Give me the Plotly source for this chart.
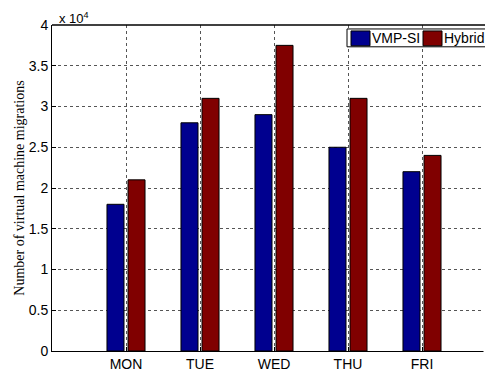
import plotly.graph_objects as go

# Daily migration counts for the two placement strategies
days = ["MON", "TUE", "WED", "THU", "FRI"]
day_pos = [1, 2, 3, 4, 5]
vmp_si = [18000, 28000, 29000, 25000, 22000]
hybrid = [21000, 31000, 37500, 31000, 24000]

y_ticks = [0, 5000, 10000, 15000, 20000, 25000, 30000, 35000, 40000]
y_tick_text = ["0", "0.5", "1", "1.5", "2", "2.5", "3", "3.5", "4"]

series_names = ["VMP-SI", "Hybrid"]
series_colors = ["rgb(0,0,143)", "rgb(128,0,0)"]

W, H = 485, 372
L, T, B = 52, 25, 18
unit_px = 74  # horizontal pixels per category step
plot_w = W - L
plot_h = H - T - B


def px_x(px):
    return (px - L) / plot_w


def px_y(py):
    return (H - B - py) / plot_h


fig = go.Figure()
fig.add_trace(go.Bar(
    x=day_pos, y=vmp_si, name=series_names[0],
    width=0.23, offset=-0.257,
    marker=dict(color=series_colors[0], line=dict(color="black", width=1)),
))
fig.add_trace(go.Bar(
    x=day_pos, y=hybrid, name=series_names[1],
    width=0.23, offset=0.027,
    marker=dict(color=series_colors[1], line=dict(color="black", width=1)),
))

fig.update_layout(
    width=W, height=H,
    margin=dict(l=L, r=0, t=T, b=B, pad=0),
    paper_bgcolor="white", plot_bgcolor="white",
    font=dict(family="Liberation Sans, Arial, sans-serif", size=14, color="black"),
    barmode="overlay",
    showlegend=False,
    xaxis=dict(
        range=[0, plot_w / unit_px],
        tickvals=day_pos, ticktext=days,
        ticks="inside", ticklen=4, tickcolor="black",
        showline=True, linecolor="black", linewidth=1, mirror=False,
        showgrid=True, gridcolor="#555", gridwidth=1, griddash="dot",
        zeroline=False, fixedrange=True,
    ),
    yaxis=dict(
        range=[0, 40000],
        tickvals=y_ticks, ticktext=y_tick_text,
        ticks="inside", ticklen=4, tickcolor="black",
        showline=True, linecolor="black", linewidth=1,
        showgrid=True, gridcolor="#555", gridwidth=1, griddash="dot",
        zeroline=False,
        title=dict(
            text="Number of virtual machine migrations",
            font=dict(family="Liberation Serif, Times New Roman, serif", size=14),
            standoff=0,
        ),
    ),
)

# The axes box is open on the right: keep that edge blank
fig.add_shape(type="line", xref="paper", yref="paper", x0=1, x1=1, y0=-0.01, y1=0.995,
              line=dict(color="white", width=3), layer="above")

# Top frame line of the axes box
fig.add_shape(type="line", xref="paper", yref="paper", x0=0, x1=1.02, y0=1, y1=1,
              line=dict(color="black", width=1.5), layer="above")

# Axis exponent label
fig.add_annotation(
    xref="paper", yref="paper", x=px_x(57), y=1, xanchor="left", yanchor="bottom",
    text="x 10<sup>4</sup>", showarrow=False, yshift=-3,
    font=dict(size=13),
)

# Legend box with swatches and labels
fig.add_shape(type="rect", xref="paper", yref="paper",
              x0=px_x(347), x1=px_x(490), y0=px_y(47), y1=px_y(29),
              line=dict(color="black", width=1), fillcolor="white", layer="above")
swatch_x = [351, 423]
label_x = [370, 442]
for name, color, sx, lx in zip(series_names, series_colors, swatch_x, label_x):
    fig.add_shape(type="rect", xref="paper", yref="paper",
                  x0=px_x(sx), x1=px_x(sx + 19), y0=px_y(46), y1=px_y(31),
                  line=dict(color="black", width=1), fillcolor=color, layer="above")
    fig.add_annotation(xref="paper", yref="paper", x=px_x(lx), y=px_y(38.5),
                       xanchor="left", yanchor="middle", text=name,
                       showarrow=False, font=dict(size=14))

fig.write_html("out.html")
